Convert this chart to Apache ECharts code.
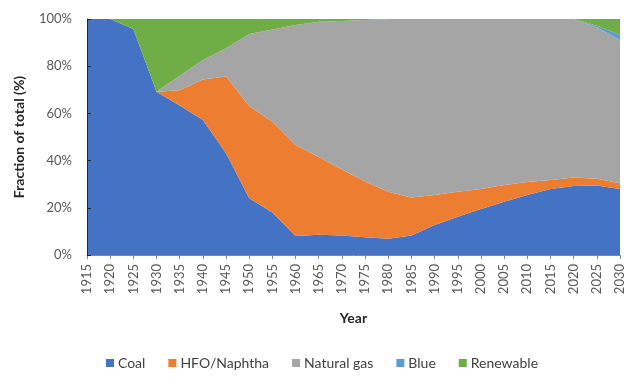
<!DOCTYPE html>
<html><head><meta charset="utf-8">
<script src="https://cdn.jsdelivr.net/npm/echarts@6/dist/echarts.min.js"></script>
<style>html,body{margin:0;padding:0;background:#fff}#c{width:644px;height:388px}</style>
</head><body><div id="c"></div>
<script>
const years = ['1915','1920','1925','1930','1935','1940','1945','1950','1955','1960','1965','1970','1975','1980','1985','1990','1995','2000','2005','2010','2015','2020','2025','2030'];
const coal = [100,100,95.8,69.2,63.4,57.2,43.1,24,18,8.1,8.6,8.3,7.5,6.9,8.3,12.7,16.2,19.5,22.6,25.4,28,29.2,29.4,28];
const hfo = [0,0,0,0,6.4,17.2,32.5,39.1,38.5,38.5,32.9,27.9,23.6,19.9,16.1,12.7,10.6,8.5,7.1,5.5,3.8,3.6,2.9,2.4];
const gas = [0,0,0,0,6.2,8.2,12,30.5,39,50.9,57.3,62.9,68.5,73.2,75.6,74.6,73.2,72,70.3,69.1,68.2,67.2,64.2,60.7];
const blue = [0,0,0,0,0,0,0,0,0,0,0,0,0,0,0,0,0,0,0,0,0,0,0.6,2.1];
const renewable = [0,0,4.2,30.8,24,17.4,12.4,6.4,4.5,2.5,1.2,0.9,0.4,0,0,0,0,0,0,0,0,0,2.9,6.8];
const names = ['Coal','HFO/Naphtha','Natural gas','Blue','Renewable'];
const colors = ['#4472C4','#ED7D31','#A5A5A5','#5B9BD5','#70AD47'];
const datas = [coal,hfo,gas,blue,renewable];
const font = 'Lato, "Open Sans", sans-serif';
const chart = echarts.init(document.getElementById('c'));
chart.setOption({
  animation:false,
  color:colors,
  grid:{left:87,right:24,top:19,bottom:133},
  legend:{bottom:13,left:'center',itemWidth:8,itemHeight:8,itemGap:23,icon:'rect',
    textStyle:{fontFamily:font,fontSize:14,color:'#404040',padding:[0,0,0,-1]},data:names},
  xAxis:{type:'category',data:years,boundaryGap:false,
    name:'Year',nameLocation:'middle',nameGap:56,
    nameTextStyle:{fontFamily:font,fontSize:14,fontWeight:'bold',color:'#262626'},
    axisLine:{lineStyle:{color:'#868686'}},
    axisTick:{show:true,length:4,lineStyle:{color:'#868686'},alignWithLabel:true},
    axisLabel:{rotate:90,interval:0,fontFamily:font,fontSize:13,color:'#595959',margin:9}},
  yAxis:{type:'value',min:0,max:100,interval:20,z:5,
    name:'Fraction of total (%)',nameLocation:'middle',nameGap:61,
    nameTextStyle:{fontFamily:font,fontSize:14,fontWeight:'bold',color:'#262626'},
    axisLine:{show:true,lineStyle:{color:'#262626'}},
    axisTick:{show:true,inside:true,length:4,lineStyle:{color:'#262626'}},
    splitLine:{show:false},
    axisLabel:{formatter:'{value}%',fontFamily:font,fontSize:13,color:'#595959',margin:15}},
  series:names.map((n,i)=>({name:n,type:'line',stack:'t',data:datas[i],symbol:'none',
    lineStyle:{width:0},areaStyle:{color:colors[i],opacity:1},itemStyle:{color:colors[i]}}))
});
</script></body></html>
